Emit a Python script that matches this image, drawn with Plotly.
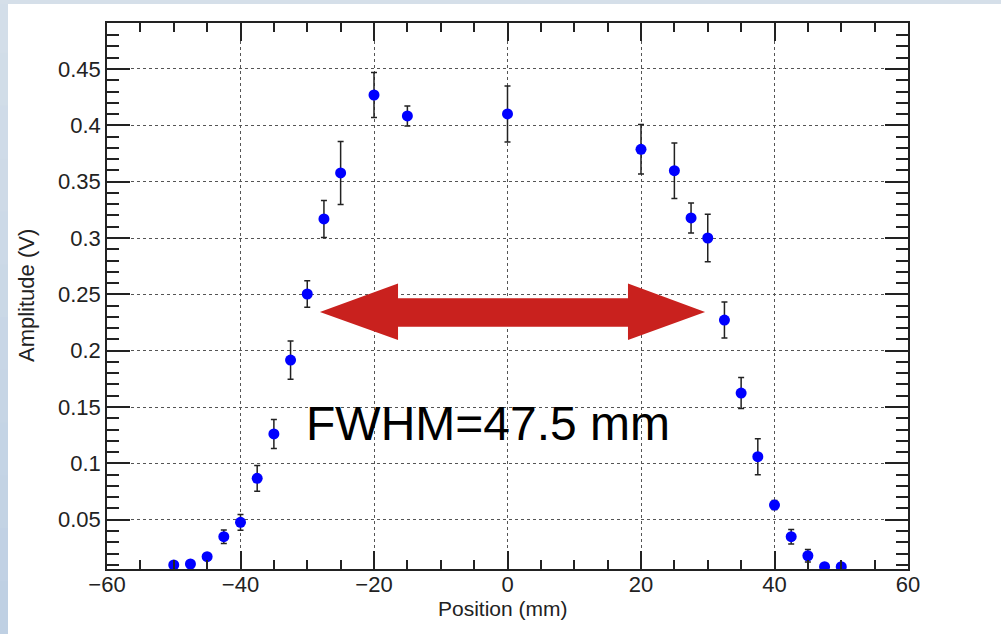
import plotly.graph_objects as go

# ---- data ----
position_mm = [-50, -47.5, -45, -42.5, -40, -37.5, -35, -32.5, -30, -27.5, -25,
               -20, -15, 0, 20, 25, 27.5, 30, 32.5, 35, 37.5, 40, 42.5, 45, 47.5, 50]
amplitude_v = [0.0098, 0.0107, 0.0172, 0.0349, 0.0477, 0.0867, 0.1261, 0.1917, 0.2503,
               0.3169, 0.3577, 0.4269, 0.4083, 0.4101, 0.3787, 0.3597, 0.3178, 0.3000,
               0.2272, 0.1624, 0.1059, 0.0630, 0.0349, 0.0180, 0.0083, 0.0083]
amplitude_err = [0.0015, 0.0015, 0.002, 0.006, 0.007, 0.0114, 0.0129, 0.017, 0.0117,
                 0.0164, 0.028, 0.020, 0.0089, 0.0249, 0.022, 0.0247, 0.0133, 0.021,
                 0.016, 0.0138, 0.016, 0.004, 0.0065, 0.0055, 0.002, 0.002]

y_tick_vals = [0.05, 0.1, 0.15, 0.2, 0.25, 0.3, 0.35, 0.4, 0.45]
y_tick_text = ["0.05", "0.1", "0.15", "0.2", "0.25", "0.3", "0.35", "0.4", "0.45"]
x_tick_vals = [-60, -40, -20, 0, 20, 40, 60]
x_tick_text = ["\u221260", "\u221240", "\u221220", "0", "20", "40", "60"]

annotation_text = "FWHM=47.5 mm"

# ---- figure ----
W, H = 1001, 634
ML, MR, MT, MB = 107, 93, 23, 65
PW, PH = W - ML - MR, H - MT - MB
X_RANGE = [-60, 60]
Y_RANGE = [0.00625, 0.4908]

def px_x(px):
    return (px - ML) / PW

def px_y(py):
    return (H - MB - py) / PH

fig = go.Figure()
fig.add_trace(go.Scatter(
    x=position_mm, y=amplitude_v, mode="markers",
    marker=dict(color="#0000ff", size=11, line=dict(width=0)),
    error_y=dict(type="data", array=amplitude_err, visible=True,
                 color="#222222", thickness=1.5, width=3),
    showlegend=False,
))

# double-headed arrow (data coordinates)
ax_l, ax_lb, ax_rb, ax_r = -28.1, -16.4, 18.05, 29.6
ay_c, ay_ht, ay_hb, ay_st, ay_sb = 0.2343, 0.2596, 0.2095, 0.2465, 0.2213
arrow_path = (f"M {ax_l},{ay_c} L {ax_lb},{ay_ht} L {ax_lb},{ay_st} L {ax_rb},{ay_st} "
              f"L {ax_rb},{ay_ht} L {ax_r},{ay_c} L {ax_rb},{ay_hb} L {ax_rb},{ay_sb} "
              f"L {ax_lb},{ay_sb} L {ax_lb},{ay_hb} Z")

shapes = [dict(type="path", path=arrow_path, xref="x", yref="y",
               fillcolor="#c9211e", line=dict(width=0), layer="above")]

# slide-like background bands (left gradient strip and top strip)
n = 12
c0 = (0xd3, 0xde, 0xe9)
c1 = (0xbf, 0xd0, 0xe3)
for i in range(n):
    t = i / (n - 1)
    col = "rgb(%d,%d,%d)" % tuple(round(a + (b - a) * t) for a, b in zip(c0, c1))
    y_top = H * i / n
    y_bot = H * (i + 1) / n + 1
    shapes.append(dict(type="rect", xref="paper", yref="paper",
                       x0=px_x(0), x1=px_x(8), y0=px_y(y_bot), y1=px_y(y_top),
                       fillcolor=col, line=dict(width=0), layer="below"))
shapes.append(dict(type="rect", xref="paper", yref="paper",
                   x0=px_x(0), x1=px_x(W), y0=px_y(4), y1=px_y(0),
                   fillcolor="rgb(213,223,233)", line=dict(width=0), layer="below"))

axis_common = dict(
    showline=True, linecolor="#222222", linewidth=1.5, mirror="allticks",
    ticks="inside", tickcolor="#222222", tickwidth=1.5,
    showgrid=True, gridcolor="#555555", gridwidth=1, griddash="dot",
    zeroline=False,
    tickfont=dict(family="Liberation Sans, Arial, sans-serif", size=22, color="#222222"),
)

fig.update_layout(
    width=W, height=H,
    margin=dict(l=ML, r=MR, t=MT, b=MB, pad=0),
    paper_bgcolor="white", plot_bgcolor="white",
    xaxis=dict(range=X_RANGE, tickmode="linear", tick0=x_tick_vals[0],
               dtick=x_tick_vals[1] - x_tick_vals[0],
               ticklen=18, ticklabelstandoff=-5,
               minor=dict(dtick=(x_tick_vals[1] - x_tick_vals[0]) / 4, tick0=0,
                          ticklen=9, ticks="inside",
                          tickcolor="#222222", tickwidth=1.5, showgrid=False),
               **axis_common),
    yaxis=dict(range=Y_RANGE, tickmode="linear", tick0=0,
               dtick=round(y_tick_vals[1] - y_tick_vals[0], 4),
               ticklen=23,
               minor=dict(dtick=0.01, tick0=0, ticklen=12, ticks="inside",
                          tickcolor="#222222", tickwidth=1.5, showgrid=False),
               **axis_common),
    shapes=shapes,
    annotations=[
        dict(text=annotation_text, x=-2.9, y=0.1355, xref="x", yref="y",
             showarrow=False, xanchor="center", yanchor="middle",
             font=dict(family="Liberation Sans, Arial, sans-serif", size=48, color="black")),
        dict(text="Amplitude (V)", x=px_x(26), y=0.5, xref="paper", yref="paper",
             showarrow=False, textangle=-90, xanchor="center", yanchor="middle",
             font=dict(family="Liberation Sans, Arial, sans-serif", size=22, color="#222222")),
        dict(text="Position (mm)", x=px_x(502.5), y=px_y(608), xref="paper", yref="paper",
             showarrow=False, xanchor="center", yanchor="middle",
             font=dict(family="Liberation Sans, Arial, sans-serif", size=21, color="#222222")),
    ],
)

fig.write_html("out.html")
